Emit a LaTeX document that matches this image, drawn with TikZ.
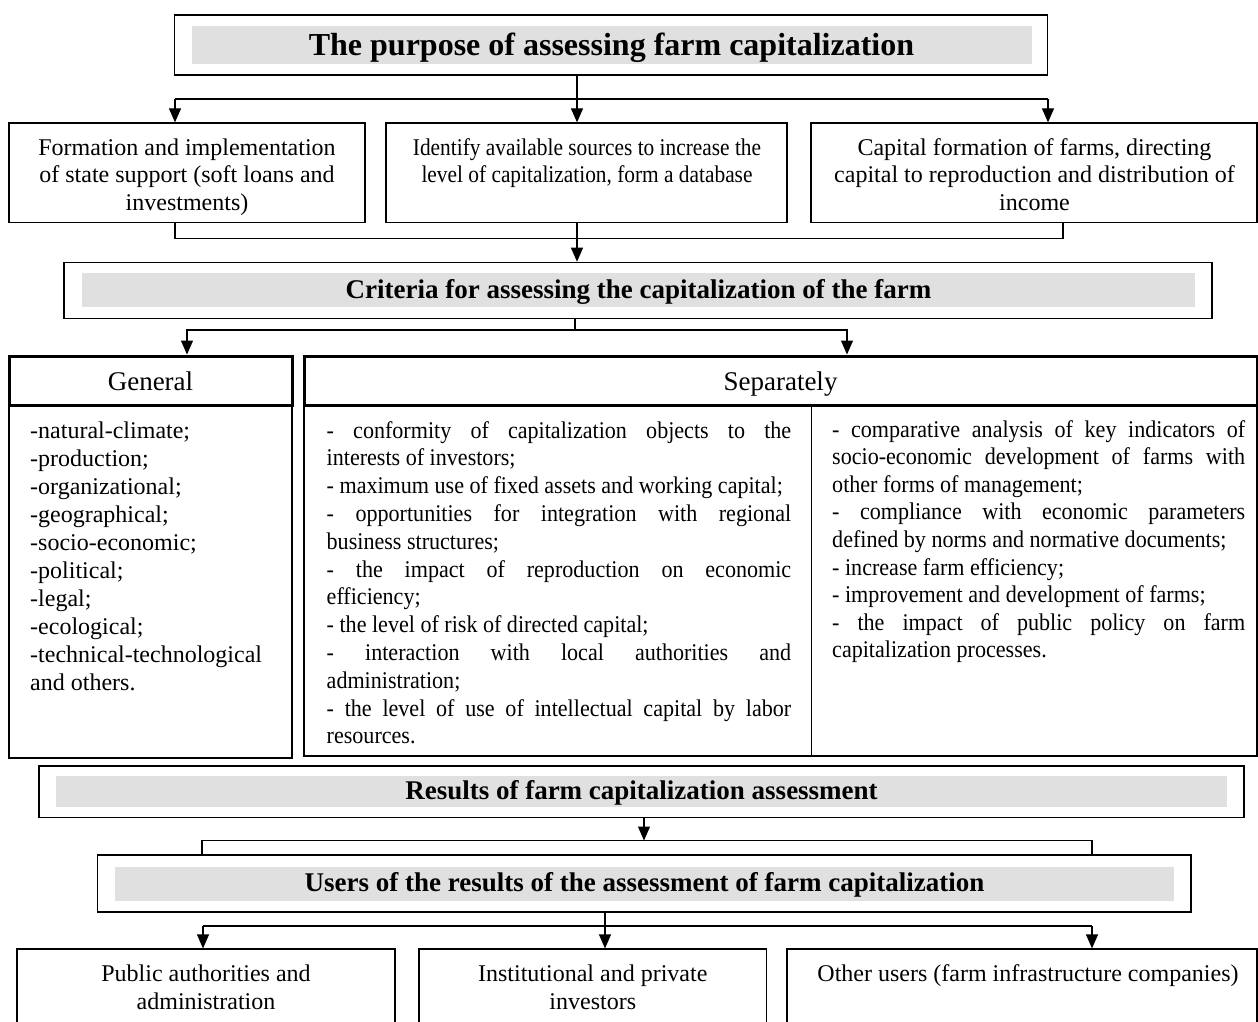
\documentclass[tikz,border=0pt]{standalone}
\usepackage{fontspec}
\setmainfont{Liberation Serif}
\newfontfamily\condA[FakeStretch=0.92]{Liberation Serif}
\newfontfamily\condB[FakeStretch=0.89]{Liberation Serif}
\usetikzlibrary{arrows.meta}
\definecolor{bandgray}{HTML}{E0E0E0}
\newcommand\justsetup{\hyphenpenalty=10000 \exhyphenpenalty=10000 \tolerance=10000 \parindent=0pt\relax}
\begin{document}
\begin{tikzpicture}[x=1pt,y=-1pt,
  box/.style={draw, line width=1.2pt, inner sep=0pt},
  thickbox/.style={draw, line width=3pt, inner sep=0pt},
  wh/.style 2 args={minimum width=#1pt, minimum height=#2pt},
  band/.style={fill=bandgray, inner sep=0pt, font=\fontsize{27}{30}\selectfont\bfseries, text height=22pt, text depth=5.5pt},
  bodytext/.style={font=\fontsize{24}{27.5}\selectfont, inner sep=0pt, anchor=north, align=center},
  listtext/.style={inner sep=0pt, anchor=north west},
  arr/.style={line width=1.2pt, -{Triangle[width=12pt,length=14pt]}},
  conn/.style={line width=1.2pt},
]
\useasboundingbox (0,0) rectangle (1258,1021);
\clip (0,0) rectangle (1258,1021);
\fill[white] (0,0) rectangle (1258,1021);

% top
\node[box, wh={873}{60}] (top) at (611,45) {};
\node[band, wh={840}{38}, font=\fontsize{32}{36}\selectfont\bfseries, text height=26pt, text depth=6pt] (topt) at (611.5,45) {The purpose of assessing farm capitalization};

% three boxes
\node[box, wh={356}{99.5}] (b1) at (187,172.7) {};
\node[box, wh={401}{99.5}] (b2) at (586.5,172.7) {};
\node[box, wh={446}{99.5}] (b3) at (1034,172.7) {};
\node[bodytext] (b1t) at (187,135.75) {\strut Formation and implementation\\of state support (soft loans and\\investments)};
\node[bodytext, font=\condB\fontsize{24}{27.5}\selectfont] (b2t) at (587,135.75) {\strut Identify available sources to increase the\\level of capitalization, form a database};
\node[bodytext] (b3t) at (1034.5,135.75) {\strut Capital formation of farms, directing\\capital to reproduction and distribution of\\income};

% criteria
\node[box, wh={1148}{56}] (crit) at (638,290.3) {};
\node[band, wh={1113}{34.6}] (critt) at (638.5,290) {Criteria for assessing the capitalization of the farm};

% headers
\node[thickbox, wh={283}{49}, font=\fontsize{27}{30}\selectfont, text height=24pt, text depth=5pt] (genh) at (150.5,380.5) {General};
\node[thickbox, wh={953}{49}, font=\fontsize{27}{30}\selectfont, text height=24pt, text depth=5pt] (seph) at (780.5,380.5) {Separately};
\node[box, wh={283}{353}] (genb) at (150.5,581.5) {};
\node[box, wh={507.5}{351}] (sep1) at (557.75,580.5) {};
\node[box, wh={445.5}{351}] (sep2) at (1034.25,580.5) {};

\node[listtext, align=left, font=\fontsize{24}{28}\selectfont] (genl) at (30,418.7) {\strut -natural-climate;\\-production;\\-organizational;\\-geographical;\\-socio-economic;\\-political;\\-legal;\\-ecological;\\-technical-technological\\and others.};

\node[listtext, text width=464.5pt, align=justify, font=\condA\fontsize{24}{27.8}\selectfont] (s1t) at (326.5,418.5) {\justsetup\strut - conformity of capitalization objects to the\linebreak interests of investors;\par
- maximum use of fixed assets and working capital;\par
- opportunities for integration with regional\linebreak business structures;\par
- the impact of reproduction on economic\linebreak efficiency;\par
- the level of risk of directed capital;\par
- interaction with local authorities and\linebreak administration;\par
- the level of use of intellectual capital by labor\linebreak resources.};

\node[listtext, text width=413pt, align=justify, font=\condA\fontsize{24}{27.6}\selectfont] (s2t) at (832,417.5) {\justsetup\strut - comparative analysis of key indicators of\linebreak socio-economic development of farms with\linebreak other forms of management;\par
- compliance with economic parameters\linebreak defined by norms and normative documents;\par
- increase farm efficiency;\par
- improvement and development of farms;\par
- the impact of public policy on farm\linebreak capitalization processes.};

% results
\node[box, wh={1205}{51.7}] (res) at (641.5,791.85) {};
\node[band, wh={1171}{30.7}] (rest) at (641.5,791.35) {Results of farm capitalization assessment};

% users
\node[box, wh={1093.4}{57}] (users) at (644.3,883.5) {};
\node[band, wh={1059}{34}] (userst) at (644.5,883.7) {Users of the results of the assessment of farm capitalization};

% bottom boxes
\node[box, wh={378}{101}] (u1) at (206,999.5) {};
\node[box, wh={347.5}{101}] (u2) at (592.75,999.5) {};
\node[box, wh={470}{101}] (u3) at (1022,999.5) {};
\node[bodytext, font=\fontsize{24}{28}\selectfont] (u1t) at (206,962.1) {\strut Public authorities and\\administration};
\node[bodytext, font=\fontsize{24}{28}\selectfont] (u2t) at (592.75,962.1) {\strut Institutional and private\\investors};
\node[bodytext, font=\fontsize{24}{28}\selectfont] (u3t) at (1028,962.1) {\strut Other users (farm infrastructure companies)};

% connector coordinates
\coordinate (j1) at (577,99);
\coordinate (j1l) at (175,99);
\coordinate (j1r) at (1048,99);
\coordinate (j2l) at (175,238.3);
\coordinate (j2m) at (577,238.3);
\coordinate (j2r) at (1063,238.3);
\coordinate (j3) at (575,330);
\coordinate (j3l) at (187,330);
\coordinate (j3r) at (847,330);
\coordinate (j4) at (644,840.5);
\coordinate (j4l) at (202,840.5);
\coordinate (j4r) at (1092,840.5);
\coordinate (j5) at (605,926);
\coordinate (j5l) at (203,926);
\coordinate (j5r) at (1092,926);

% connectors
\draw[arr] (top.south -| j1) -- (b2.north -| j1);
\draw[conn] (j1l) -- (j1r);
\draw[arr] (j1l) -- (b1.north -| j1l);
\draw[arr] (j1r) -- (b3.north -| j1r);

\draw[conn] (b1.south -| j2l) -- (j2l) -- (j2r) -- (b3.south -| j2r);
\draw[arr] (b2.south -| j2m) -- (crit.north -| j2m);

\draw[conn] (crit.south -| j3) -- (j3);
\draw[arr] (j3) -- (j3l) -- (genh.north -| j3l);
\draw[arr] (j3) -- (j3r) -- (seph.north -| j3r);

\draw[arr] (res.south -| j4) -- (j4);
\draw[conn] (users.north -| j4l) -- (j4l) -- (j4r) -- (users.north -| j4r);

\draw[arr] (users.south -| j5) -- (u2.north -| j5);
\draw[conn] (j5l) -- (j5r);
\draw[arr] (j5l) -- (u1.north -| j5l);
\draw[arr] (j5r) -- (u3.north -| j5r);
\end{tikzpicture}
\end{document}
